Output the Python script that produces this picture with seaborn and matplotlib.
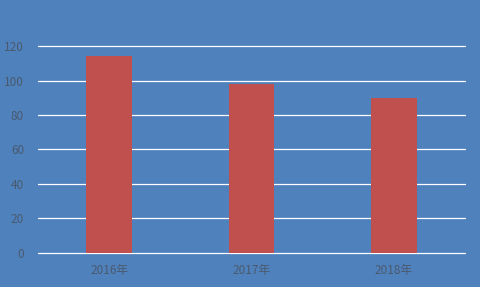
import matplotlib
matplotlib.use("Agg")
import matplotlib.pyplot as plt
import seaborn as sns
import pandas as pd

categories = ["2016年", "2017年", "2018年"]
values = [114, 98, 90]
yticks = [0, 20, 40, 60, 80, 100, 120]

bg = "#4F81BD"
bar_color = "#C0504D"
text_color = "#4A5A6E"

sns.set_style("white")
plt.rcParams['font.family'] = ['Noto Sans CJK SC', 'DejaVu Sans']

df = pd.DataFrame({"cat": categories, "val": values})

fig = plt.figure(figsize=(4.8, 2.87), dpi=100)
fig.patch.set_facecolor(bg)
ax = fig.add_axes([0.079, 0.1185, 0.890, 0.7212])
ax.set_facecolor(bg)

sns.barplot(data=df, x="cat", y="val", color=bar_color, width=0.32,
            saturation=1, ax=ax, zorder=3, linewidth=0, edgecolor="none")

ax.set_ylim(0, 120)
ax.set_xlim(-0.5, 2.5)
ax.set_yticks(yticks)
ax.set_yticklabels([str(t) for t in yticks])
for t in yticks:
    ax.axhline(t, color="white", lw=0.9, zorder=1, clip_on=False)
for s in ax.spines.values():
    s.set_visible(False)
ax.tick_params(axis="both", length=0, labelsize=8.5, colors=text_color)
ax.tick_params(axis="y", pad=10)
ax.tick_params(axis="x", pad=8)
ax.set_xlabel("")
ax.set_ylabel("")

fig.savefig("out.png", dpi=100, facecolor=bg)
